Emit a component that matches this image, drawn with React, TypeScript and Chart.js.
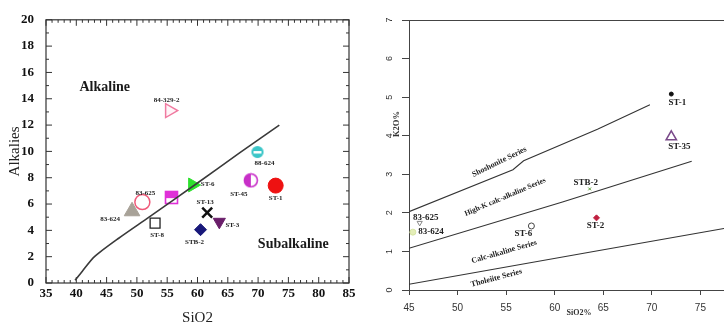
import React, { useEffect, useRef } from 'react';
import { Chart, registerables } from 'chart.js';
Chart.register(...registerables);

// ---------- Left chart (TAS: Alkalies vs SiO2) ----------
const tasBoundarySiO2 = [39.8, 41, 43, 47, 52, 60, 67, 73.5];
const tasBoundaryAlk = [0.2, 0.9, 2.0, 3.4, 5.0, 7.6, 9.9, 12.0];
const tasNames = ['84-329-2', '88-624', 'ST-6', 'ST-45', 'ST-1', '83-625', '', '83-624', 'ST-8', 'ST-13', 'ST-3', 'STB-2'];
const tasSiO2 = [55.4, 69.9, 59.2, 68.8, 72.9, 50.9, 55.7, 49.2, 53.0, 61.6, 63.6, 60.5];
const tasAlk = [13.1, 9.95, 7.45, 7.8, 7.4, 6.15, 6.5, 5.45, 4.55, 5.35, 4.65, 4.05];
const tasRegions = ['Alkaline', 'Subalkaline'];
const tasRegionSiO2 = [44.7, 75.8];
const tasRegionAlk = [14.9, 2.9];

// ---------- Right chart (K2O vs SiO2) ----------
const shoshBoundarySiO2 = [45, 55.7, 56.8, 64.4, 69.8];
const shoshBoundaryK2O = [2.03, 3.12, 3.35, 4.17, 4.8];
const highKBoundarySiO2 = [45, 60.8, 74.1];
const highKBoundaryK2O = [1.08, 2.28, 3.34];
const tholBoundarySiO2 = [45, 64, 78];
const tholBoundaryK2O = [0.15, 1.0, 1.62];
const kNames = ['ST-1', 'ST-35', 'STB-2', 'ST-2', 'ST-6', '83-625', '83-624'];
const kSiO2 = [72.0, 72.0, 63.6, 64.3, 57.6, 46.1, 45.4];
const kK2O = [5.08, 3.97, 2.62, 1.87, 1.66, 1.74, 1.5];
const kSeriesNames = ['Shoshonite Series', 'High-K calc-alkaline Series', 'Calc-alkaline Series', 'Tholeiite Series'];
const kSeriesSiO2 = [54.3, 54.9, 54.8, 54.0];
const kSeriesK2O = [3.32, 2.41, 0.99, 0.31];

const SERIF = "'Liberation Serif', 'DejaVu Serif', serif";
const SANS = "'Liberation Sans', 'DejaVu Sans', sans-serif";

function makeMarker(size: number, draw: (c: CanvasRenderingContext2D, s: number) => void) {
  const cv = document.createElement('canvas');
  cv.width = size;
  cv.height = size;
  const c = cv.getContext('2d')!;
  draw(c, size);
  return cv;
}

const pointLabelPlugin = {
  id: 'pointLabels',
  afterDatasetsDraw(chart: any) {
    const ctx = chart.ctx;
    chart.data.datasets.forEach((ds: any, i: number) => {
      if (!ds.pointLabel) return;
      const el = chart.getDatasetMeta(i).data[0];
      if (!el) return;
      ctx.save();
      ctx.font = ds.labelFont;
      ctx.fillStyle = ds.labelColor || '#222';
      ctx.textAlign = 'center';
      ctx.textBaseline = 'middle';
      ctx.fillText(ds.pointLabel, el.x + ds.labelDx, el.y + ds.labelDy);
      ctx.restore();
    });
  },
};

const leftFramePlugin = {
  id: 'leftFrame',
  beforeDatasetsDraw(chart: any) {
    const { ctx, chartArea, scales } = chart;
    const { left, right, top, bottom } = chartArea;
    ctx.save();
    ctx.strokeStyle = '#333';
    ctx.lineWidth = 1.2;
    ctx.strokeRect(left, top, right - left, bottom - top);
    ctx.lineWidth = 1;
    ctx.beginPath();
    for (let v = 35; v <= 85; v += 1) {
      const px = scales.x.getPixelForValue(v);
      const len = v % 5 === 0 ? 6 : 3;
      ctx.moveTo(px, bottom); ctx.lineTo(px, bottom - len);
      ctx.moveTo(px, top); ctx.lineTo(px, top + len);
    }
    for (let v = 0; v <= 20; v += 1) {
      const py = scales.y.getPixelForValue(v);
      const len = v % 2 === 0 ? 6 : 3;
      ctx.moveTo(left, py); ctx.lineTo(left + len, py);
      ctx.moveTo(right, py); ctx.lineTo(right - len, py);
    }
    ctx.stroke();
    // region labels
    ctx.font = `bold 14px ${SERIF}`;
    ctx.fillStyle = '#1a1a1a';
    ctx.textAlign = 'center';
    ctx.textBaseline = 'middle';
    tasRegions.forEach((t, i) => {
      ctx.fillText(t, scales.x.getPixelForValue(tasRegionSiO2[i]), scales.y.getPixelForValue(tasRegionAlk[i]));
    });
    ctx.restore();
  },
};

const rightDecorPlugin = {
  id: 'rightDecor',
  beforeDatasetsDraw(chart: any) {
    const { ctx, chartArea, scales } = chart;
    ctx.save();
    ctx.strokeStyle = '#444';
    ctx.lineWidth = 1;
    ctx.beginPath();
    ctx.moveTo(chartArea.left, chartArea.top + 0.5);
    ctx.lineTo(chartArea.right, chartArea.top + 0.5);
    ctx.stroke();
    // series labels along boundaries
    const sizes = [8, 7.5, 8, 8];
    const angles = [-26, -23, -16, -15];
    ctx.fillStyle = '#222';
    ctx.textAlign = 'center';
    ctx.textBaseline = 'middle';
    kSeriesNames.forEach((t, i) => {
      ctx.save();
      ctx.translate(scales.x.getPixelForValue(kSeriesSiO2[i]), scales.y.getPixelForValue(kSeriesK2O[i]));
      ctx.rotate((angles[i] * Math.PI) / 180);
      ctx.font = `bold ${sizes[i]}px ${SERIF}`;
      ctx.fillText(t, 0, 0);
      ctx.restore();
    });
    // y axis title
    ctx.save();
    ctx.translate(35, 124);
    ctx.rotate(-Math.PI / 2);
    ctx.font = `bold 8.5px ${SERIF}`;
    ctx.fillStyle = '#333';
    ctx.fillText('K2O%', 0, 0);
    ctx.restore();
    ctx.restore();
  },
};

function buildLeftConfig(): any {
  const cyanMarker = makeMarker(14, (c, s) => {
    c.beginPath(); c.arc(s / 2, s / 2, 5.5, 0, Math.PI * 2);
    c.fillStyle = '#3cc6c8'; c.fill();
    c.fillStyle = '#ffffff';
    c.fillRect(3, 6, 8, 2.5);
    c.lineWidth = 1.2; c.strokeStyle = '#3cc6c8'; c.stroke();
  });
  const magentaCircle = makeMarker(16, (c, s) => {
    c.beginPath(); c.arc(s / 2, s / 2, 6.5, 0, Math.PI * 2);
    c.fillStyle = '#ffffff'; c.fill();
    c.beginPath(); c.arc(s / 2, s / 2, 6.5, Math.PI / 2, Math.PI * 1.5);
    c.closePath(); c.fillStyle = '#c830c8'; c.fill();
    c.beginPath(); c.arc(s / 2, s / 2, 6.5, 0, Math.PI * 2);
    c.lineWidth = 1.6; c.strokeStyle = '#c830c8'; c.stroke();
  });
  const magentaSquare = makeMarker(15, (c, s) => {
    c.fillStyle = '#ffffff'; c.fillRect(1, 1, s - 2, s - 2);
    c.fillStyle = '#e030d8'; c.fillRect(1, 1, s - 2, (s - 2) * 0.55);
    c.lineWidth = 1.6; c.strokeStyle = '#e030d8'; c.strokeRect(1.5, 1.5, s - 3, s - 3);
  });

  const styles: any[] = [
    { pointStyle: 'triangle', rotation: 90, radius: 8, bg: 'rgba(255,240,245,0.7)', border: '#f07aa0', bw: 1.5, dx: -3, dy: -10 },
    { pointStyle: cyanMarker, radius: 7, bg: '#3cc6c8', border: '#3cc6c8', bw: 1, dx: 7, dy: 11 },
    { pointStyle: 'triangle', rotation: 90, radius: 8, bg: '#2ee02e', border: '#2ee02e', bw: 1, dx: 15, dy: -1 },
    { pointStyle: magentaCircle, radius: 8, bg: '#c830c8', border: '#c830c8', bw: 1, dx: -12, dy: 14 },
    { pointStyle: 'circle', radius: 7.5, bg: '#ee1111', border: '#ee1111', bw: 1, dx: 0, dy: 13 },
    { pointStyle: 'circle', radius: 7.5, bg: 'rgba(255,255,255,0)', border: '#f05a7a', bw: 1.5, dx: 3, dy: -9 },
    { pointStyle: magentaSquare, radius: 8, bg: '#e030d8', border: '#e030d8', bw: 1, dx: 0, dy: 0 },
    { pointStyle: 'triangle', rotation: 0, radius: 9, bg: '#a8a298', border: '#a8a298', bw: 1, dx: -22, dy: 8 },
    { pointStyle: 'rect', radius: 7, bg: '#ffffff', border: '#222', bw: 1.3, dx: 2, dy: 12 },
    { pointStyle: 'crossRot', radius: 7, bg: '#111', border: '#111', bw: 2.5, dx: -2, dy: -10 },
    { pointStyle: 'triangle', rotation: 180, radius: 7, bg: '#6a1e6a', border: '#6a1e6a', bw: 1, dx: 13, dy: 3 },
    { pointStyle: 'rectRot', radius: 6, bg: '#18187a', border: '#18187a', bw: 1, dx: -6, dy: 12 },
  ];

  const datasets: any[] = [
    {
      data: tasBoundarySiO2.map((x, i) => ({ x, y: tasBoundaryAlk[i] })),
      showLine: true,
      borderColor: '#3a3a3a',
      borderWidth: 1.6,
      pointRadius: 0,
      tension: 0.25,
    },
  ];
  tasNames.forEach((name, i) => {
    const st = styles[i];
    datasets.push({
      data: [{ x: tasSiO2[i], y: tasAlk[i] }],
      pointStyle: st.pointStyle,
      rotation: st.rotation || 0,
      pointRadius: st.radius,
      backgroundColor: st.bg,
      borderColor: st.border,
      borderWidth: st.bw,
      pointLabel: name,
      labelDx: st.dx,
      labelDy: st.dy,
      labelFont: `bold 7px ${SERIF}`,
      labelColor: '#1e1e1e',
    });
  });

  return {
    type: 'scatter',
    data: { datasets },
    plugins: [leftFramePlugin, pointLabelPlugin],
    options: {
      animation: false,
      responsive: false,
      devicePixelRatio: 1,
      layout: { padding: { left: 0, top: 17, right: 13, bottom: 0 } },
      plugins: { legend: { display: false }, tooltip: { enabled: false } },
      scales: {
        x: {
          type: 'linear',
          min: 35,
          max: 85,
          ticks: { stepSize: 5, color: '#111', font: { family: SERIF, size: 13, weight: 'bold' }, padding: 3, maxRotation: 0, autoSkip: false },
          grid: { display: false, drawTicks: false },
          border: { display: false },
          title: { display: true, text: 'SiO2', color: '#222', font: { family: SERIF, size: 15, lineHeight: 0.85 }, padding: { top: 0, bottom: 0 } },
          afterFit: (s: any) => { s.height = 41; },
        },
        y: {
          type: 'linear',
          min: 0,
          max: 20,
          ticks: { stepSize: 2, color: '#111', font: { family: SERIF, size: 13, weight: 'bold' }, padding: 12 },
          grid: { display: false, drawTicks: false },
          border: { display: false },
          title: { display: true, text: 'Alkalies', color: '#222', font: { family: SERIF, size: 15, lineHeight: 1.2 }, padding: { top: 6, bottom: 0 } },
          afterFit: (s: any) => { s.width = 46; },
        },
      },
    },
  };
}

function buildRightConfig(): any {
  const styles: any[] = [
    { pointStyle: 'circle', radius: 2, bg: '#111', border: '#111', bw: 1, dx: 6, dy: 9 },
    { pointStyle: 'triangle', radius: 6, bg: 'rgba(255,255,255,0)', border: '#7a4a8a', bw: 1.5, dx: 8, dy: 10 },
    { pointStyle: 'crossRot', radius: 2, bg: '#5a9a3a', border: '#5a9a3a', bw: 1, dx: -4, dy: -6 },
    { pointStyle: 'rectRot', radius: 3, bg: '#c02040', border: '#c02040', bw: 1, dx: -1, dy: 8 },
    { pointStyle: 'circle', radius: 3, bg: '#ffffff', border: '#444', bw: 1, dx: -8, dy: 8 },
    { pointStyle: 'triangle', rotation: 180, radius: 3, bg: 'rgba(255,255,255,0)', border: '#888', bw: 1, dx: 6, dy: -5 },
    { pointStyle: 'circle', radius: 3, bg: '#e4eeb8', border: '#d6e4a4', bw: 1, dx: 18, dy: 0 },
  ];
  const line = (xs: number[], ys: number[]) => ({
    data: xs.map((x, i) => ({ x, y: ys[i] })),
    showLine: true,
    borderColor: '#333',
    borderWidth: 1.1,
    pointRadius: 0,
    tension: 0,
  });
  const datasets: any[] = [
    line(shoshBoundarySiO2, shoshBoundaryK2O),
    line(highKBoundarySiO2, highKBoundaryK2O),
    line(tholBoundarySiO2, tholBoundaryK2O),
  ];
  kNames.forEach((name, i) => {
    const st = styles[i];
    datasets.push({
      data: [{ x: kSiO2[i], y: kK2O[i] }],
      pointStyle: st.pointStyle,
      rotation: st.rotation || 0,
      pointRadius: st.radius,
      backgroundColor: st.bg,
      borderColor: st.border,
      borderWidth: st.bw,
      pointLabel: name,
      labelDx: st.dx,
      labelDy: st.dy,
      labelFont: `bold 9px ${SERIF}`,
      labelColor: '#222',
    });
  });

  return {
    type: 'scatter',
    data: { datasets },
    plugins: [rightDecorPlugin, pointLabelPlugin],
    options: {
      animation: false,
      responsive: false,
      devicePixelRatio: 1,
      layout: { padding: { left: 0, top: 20, right: 13, bottom: 0 } },
      plugins: { legend: { display: false }, tooltip: { enabled: false } },
      scales: {
        x: {
          type: 'linear',
          min: 45,
          max: 80,
          ticks: { stepSize: 5, color: '#333', font: { family: SANS, size: 10 }, padding: 7, maxRotation: 0, autoSkip: false },
          grid: { display: true, drawOnChartArea: false, drawTicks: true, tickLength: 5, color: '#444' },
          border: { display: true, color: '#444', width: 1 },
          title: { display: true, text: 'SiO2%', color: '#333', font: { family: SERIF, size: 8, weight: 'bold', lineHeight: 1 }, padding: { top: 0, bottom: 7 } },
          afterFit: (s: any) => { s.height = 34; },
        },
        y: {
          type: 'linear',
          min: 0,
          max: 7,
          ticks: { stepSize: 1, color: '#333', font: { family: SANS, size: 9 }, padding: 10, minRotation: 90, maxRotation: 90, crossAlign: 'center' },
          grid: { display: true, drawOnChartArea: false, drawTicks: true, tickLength: 7, color: '#444' },
          border: { display: true, color: '#444', width: 1 },
          afterFit: (s: any) => { s.width = 47; },
        },
      },
    },
  };
}

export default function App() {
  const leftRef = useRef<HTMLCanvasElement>(null);
  const rightRef = useRef<HTMLCanvasElement>(null);
  useEffect(() => {
    document.body.style.margin = '0';
    const c1 = new Chart(leftRef.current!, buildLeftConfig());
    const c2 = new Chart(rightRef.current!, buildRightConfig());
    return () => {
      c1.destroy();
      c2.destroy();
    };
  }, []);
  return (
    <div style={{ position: 'relative', width: 724, height: 324, overflow: 'hidden', background: '#fff' }}>
      <canvas ref={leftRef} width={362} height={324} style={{ position: 'absolute', left: 0, top: 0 }} />
      <canvas ref={rightRef} width={400} height={324} style={{ position: 'absolute', left: 362, top: 0 }} />
    </div>
  );
}
